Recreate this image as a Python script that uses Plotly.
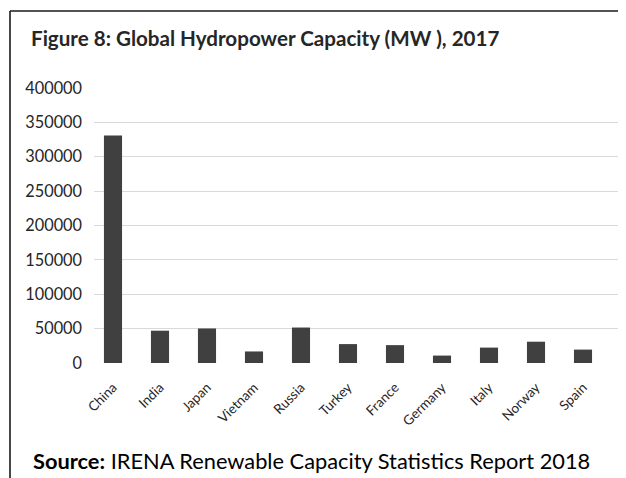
import plotly.graph_objects as go

countries = ["China", "India", "Japan", "Vietnam", "Russia", "Turkey",
             "France", "Germany", "Italy", "Norway", "Spain"]
capacity_mw = [331000, 47000, 50200, 16800, 51600, 27500,
               26000, 10800, 22400, 31000, 19500]
y_ticks = [0, 50000, 100000, 150000, 200000, 250000, 300000, 350000, 400000]

# page body has an 8px margin; work in figure pixels (page - 8)
OFF = 8
W, H = 626 - OFF, 478 - OFF
L, R, T, B = 94 - OFF, 3, 88 - OFF, 115
pw = W - L - R
ph = H - T - B

def px(x):
    return (x - OFF - L) / pw

def py(y):
    return (H - B - (y - OFF)) / ph

FONT = "Lato, 'Open Sans', sans-serif"
TXT = "#262626"

fig = go.Figure(go.Bar(
    x=list(range(len(countries))), y=capacity_mw,
    marker=dict(color="#404040", line=dict(width=0)),
    width=0.385, hoverinfo="skip",
))

fig.update_layout(
    width=W, height=H,
    margin=dict(l=L, r=R, t=T, b=B),
    paper_bgcolor="white", plot_bgcolor="white",
    showlegend=False,
    font=dict(family=FONT, color=TXT),
    xaxis=dict(
        range=[-0.404, 10.851],
        tickmode="array", tickvals=list(range(len(countries))), ticktext=countries,
        tickangle=-45, tickfont=dict(size=13.5, color=TXT),
        showgrid=False, zeroline=False, showline=False, ticks="",
        ticklabelstandoff=13,
    ),
    yaxis=dict(
        range=[0, 400000],
        tickmode="array", tickvals=y_ticks, ticktext=[str(v) for v in y_ticks],
        tickfont=dict(size=16.3, color=TXT),
        showgrid=True, gridcolor="#d9d9d9", gridwidth=1.2,
        zeroline=False, showline=False, ticks="",
        ticklabelstandoff=11,
    ),
    annotations=[
        dict(xref="paper", yref="paper", x=px(29), y=py(38),
             xanchor="left", yanchor="middle", showarrow=False,
             text="<b>Figure 8: Global Hydropower Capacity (MW ), 2017</b>",
             font=dict(size=20.6, color=TXT, family=FONT)),
        dict(xref="paper", yref="paper", x=px(31), y=py(460),
             xanchor="left", yanchor="middle", showarrow=False,
             text="<b>Source:</b> IRENA Renewable Capacity Statistics Report 2018",
             font=dict(size=21.8, color="#000000", family=FONT)),
    ],
    shapes=[
        dict(type="line", xref="paper", yref="paper", layer="above",
             x0=px(10), x1=px(640), y0=py(11), y1=py(11),
             line=dict(color="#1a1a1a", width=1.6)),
        dict(type="line", xref="paper", yref="paper", layer="above",
             x0=px(10), x1=px(10), y0=py(11), y1=py(490),
             line=dict(color="#1a1a1a", width=1.6)),
    ],
)

fig.write_html("out.html", config={"displayModeBar": False})
